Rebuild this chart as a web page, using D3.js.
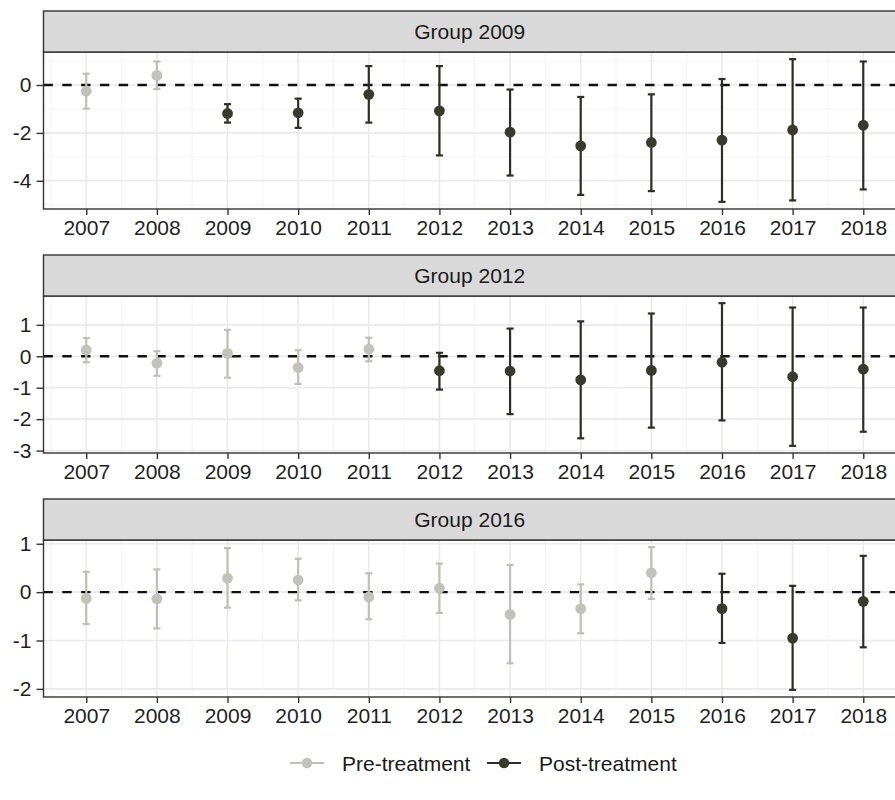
<!DOCTYPE html>
<html>
<head>
<meta charset="utf-8">
<script src="https://cdn.jsdelivr.net/npm/d3@7"></script>
<style>
  body { margin: 0; background: #fff; }
  svg text { font-family: "Liberation Sans", Arial, sans-serif; }
</style>
</head>
<body>
<svg id="event_svg"></svg>
<script>
// years on the x axis (same for every panel)
const years = [2007, 2008, 2009, 2010, 2011, 2012, 2013, 2014, 2015, 2016, 2017, 2018];

// one panel per treatment cohort
const groups = ["Group 2009", "Group 2012", "Group 2016"];
const treatYear = [2009, 2012, 2016];

// point estimates
const est2009 = [-0.26, 0.40, -1.19, -1.16, -0.39, -1.08, -1.97, -2.54, -2.40, -2.30, -1.88, -1.68];
const est2012 = [0.20, -0.22, 0.09, -0.36, 0.23, -0.46, -0.47, -0.75, -0.45, -0.19, -0.65, -0.41];
const est2016 = [-0.13, -0.14, 0.29, 0.25, -0.10, 0.08, -0.46, -0.34, 0.40, -0.34, -0.95, -0.19];

// confidence bounds
const low2009 = [-0.99, -0.17, -1.57, -1.79, -1.57, -2.94, -3.78, -4.59, -4.43, -4.88, -4.82, -4.36];
const up2009 = [0.47, 0.98, -0.80, -0.57, 0.79, 0.79, -0.19, -0.50, -0.39, 0.25, 1.08, 0.98];
const low2012 = [-0.19, -0.62, -0.68, -0.88, -0.16, -1.06, -1.84, -2.61, -2.27, -2.04, -2.85, -2.40];
const up2012 = [0.58, 0.16, 0.84, 0.19, 0.59, 0.11, 0.88, 1.11, 1.36, 1.69, 1.55, 1.55];
const low2016 = [-0.66, -0.75, -0.32, -0.17, -0.56, -0.43, -1.47, -0.85, -0.14, -1.05, -2.02, -1.14];
const up2016 = [0.42, 0.47, 0.91, 0.69, 0.39, 0.59, 0.56, 0.16, 0.93, 0.38, 0.13, 0.75];

// y tick labels per panel
const yTicks = [[-4, -2, 0], [-3, -2, -1, 0, 1], [-2, -1, 0, 1]];

const phases = ["Pre-treatment", "Post-treatment"];

const estimates = [est2009, est2012, est2016];
const lowers = [low2009, low2012, low2016];
const uppers = [up2009, up2012, up2016];

const W = 895, H = 800;
const left = 43.5, right = 906;
const stripH = 41, panelH = 157, step = 244, top0 = 11;
const barHalf = 0.05;
const fs = 21;

const color = d3.scaleOrdinal()
  .domain(phases)
  .range(["#bfbfb8", "#2e2e24"]);
const fill = d3.scaleOrdinal()
  .domain(phases)
  .range(["#c2c2bb", "#393a2c"]);

const svg = d3.select("#event_svg")
  .attr("width", W)
  .attr("height", H);

// x: continuous years, 5% expansion around error bar extent
const xlo = d3.min(years) - barHalf, xhi = d3.max(years) + barHalf;
const xpad = (xhi - xlo) * 0.05;
const x = d3.scaleLinear()
  .domain([xlo - xpad, xhi + xpad])
  .range([left, right]);

const xMinor = d3.range(d3.min(years) - 0.5, d3.max(years) + 1, 1);

groups.forEach((name, i) => {
  const stripTop = top0 + step * i;
  const pTop = stripTop + stripH;
  const pBot = pTop + panelH;

  const rows = years.map((yr, j) => ({
    year: yr,
    est: estimates[i][j],
    lo: lowers[i][j],
    hi: uppers[i][j],
    phase: yr < treatYear[i] ? phases[0] : phases[1]
  }));

  const ylo = d3.min(rows, d => d.lo), yhi = d3.max(rows, d => d.hi);
  const ypad = (yhi - ylo) * 0.05;
  const y = d3.scaleLinear()
    .domain([ylo - ypad, yhi + ypad])
    .range([pBot, pTop]);

  const yMinor = d3.range(Math.ceil(ylo - ypad), Math.floor(yhi + ypad) + 1, 1)
    .filter(v => !yTicks[i].includes(v));

  const g = svg.append("g");

  // grid
  g.append("g").selectAll("line")
    .data(xMinor)
    .join("line")
      .attr("x1", d => x(d)).attr("x2", d => x(d))
      .attr("y1", pTop).attr("y2", pBot)
      .attr("stroke", "#f2f2f4").attr("stroke-width", 0.9);
  g.append("g").selectAll("line")
    .data(yMinor)
    .join("line")
      .attr("x1", left).attr("x2", right)
      .attr("y1", d => y(d)).attr("y2", d => y(d))
      .attr("stroke", "#f2f2f4").attr("stroke-width", 0.9);
  g.append("g").selectAll("line")
    .data(years)
    .join("line")
      .attr("x1", d => x(d)).attr("x2", d => x(d))
      .attr("y1", pTop).attr("y2", pBot)
      .attr("stroke", "#e9e9ee").attr("stroke-width", 1.6);
  g.append("g").selectAll("line")
    .data(yTicks[i])
    .join("line")
      .attr("x1", left).attr("x2", right)
      .attr("y1", d => y(d)).attr("y2", d => y(d))
      .attr("stroke", "#e9e9ee").attr("stroke-width", 1.6);

  // zero reference line
  g.append("line")
    .attr("x1", left).attr("x2", right)
    .attr("y1", y(0)).attr("y2", y(0))
    .attr("stroke", "#111").attr("stroke-width", 2.3)
    .attr("stroke-dasharray", "9.4,9.4");

  // error bars
  const bars = g.append("g").selectAll("g")
    .data(rows)
    .join("g")
      .attr("stroke", d => color(d.phase))
      .attr("stroke-width", 2.2);
  bars.append("line")
    .attr("x1", d => x(d.year)).attr("x2", d => x(d.year))
    .attr("y1", d => y(d.lo)).attr("y2", d => y(d.hi));
  bars.append("line")
    .attr("x1", d => x(d.year - barHalf)).attr("x2", d => x(d.year + barHalf))
    .attr("y1", d => y(d.lo)).attr("y2", d => y(d.lo));
  bars.append("line")
    .attr("x1", d => x(d.year - barHalf)).attr("x2", d => x(d.year + barHalf))
    .attr("y1", d => y(d.hi)).attr("y2", d => y(d.hi));

  // points
  g.append("g").selectAll("circle")
    .data(rows)
    .join("circle")
      .attr("cx", d => x(d.year))
      .attr("cy", d => y(d.est))
      .attr("r", 5.4)
      .attr("fill", d => fill(d.phase));

  // panel border
  g.append("rect")
    .attr("x", left).attr("y", pTop)
    .attr("width", right - left).attr("height", panelH)
    .attr("fill", "none").attr("stroke", "#333").attr("stroke-width", 1.4);

  // strip
  g.append("rect")
    .attr("x", left).attr("y", stripTop)
    .attr("width", right - left).attr("height", stripH)
    .attr("fill", "#d9d9d9").attr("stroke", "#333").attr("stroke-width", 1.4);
  g.append("text")
    .attr("x", (left + right) / 2 - 5)
    .attr("y", stripTop + stripH / 2)
    .attr("dy", "0.36em")
    .attr("text-anchor", "middle")
    .attr("font-size", fs)
    .attr("fill", "#1a1a1a")
    .text(name);

  // axes
  const xAxis = g.append("g")
    .attr("transform", `translate(0,${pBot})`)
    .call(d3.axisBottom(x).tickValues(years).tickFormat(d => String(d)).tickSize(6).tickPadding(5));
  xAxis.select(".domain").remove();
  xAxis.selectAll("line").attr("stroke", "#333").attr("stroke-width", 1.4);
  xAxis.selectAll("text").attr("font-size", fs).attr("fill", "#1f1f1f")
    .attr("font-family", "Liberation Sans, Arial, sans-serif");

  const yAxis = g.append("g")
    .attr("transform", `translate(${left},0)`)
    .call(d3.axisLeft(y).tickValues(yTicks[i]).tickFormat(d => String(d)).tickSize(7).tickPadding(5));
  yAxis.select(".domain").remove();
  yAxis.selectAll("line").attr("stroke", "#333").attr("stroke-width", 1.4);
  yAxis.selectAll("text").attr("font-size", fs).attr("fill", "#1f1f1f")
    .attr("font-family", "Liberation Sans, Arial, sans-serif");
});

// legend
const legY = 763;
const legX = [290, 487];
const leg = svg.append("g").selectAll("g")
  .data(phases)
  .join("g")
    .attr("transform", (d, k) => `translate(${legX[k]},${legY})`);
leg.append("line")
  .attr("x1", 0).attr("x2", 34)
  .attr("stroke", d => color(d)).attr("stroke-width", 2.2);
leg.append("circle")
  .attr("cx", 17).attr("r", 5.2)
  .attr("fill", d => fill(d));
leg.append("text")
  .attr("x", 52).attr("dy", "0.36em")
  .attr("font-size", fs)
  .attr("fill", "#1a1a1a")
  .text(d => d);
</script>
</body>
</html>
